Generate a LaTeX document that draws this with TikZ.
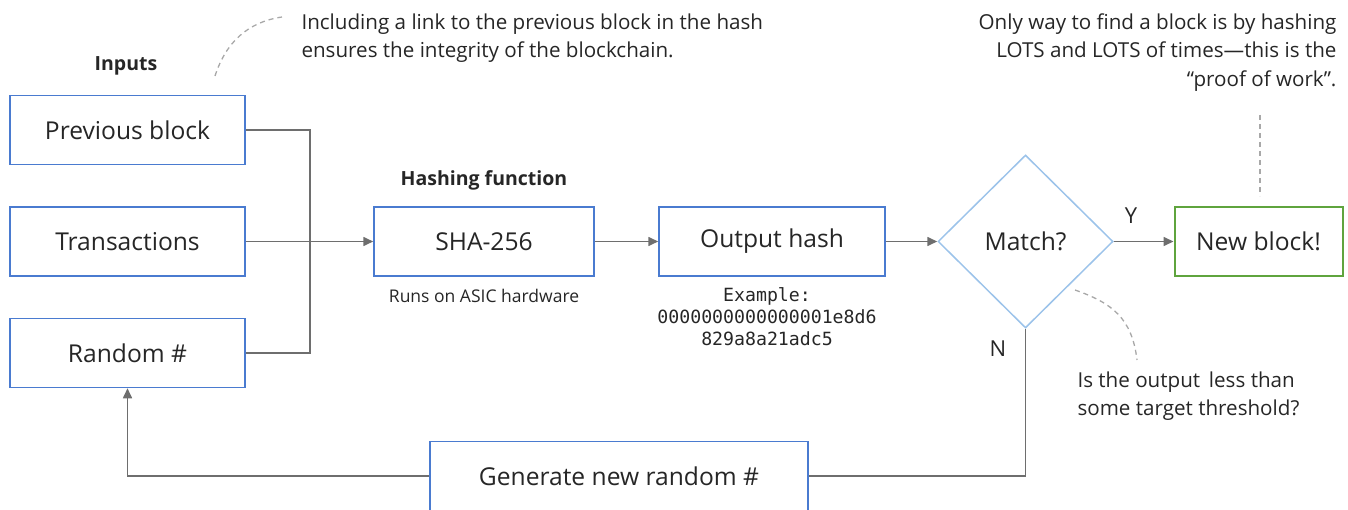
\documentclass[tikz,border=0pt]{standalone}
\usepackage{fontspec}
\setmainfont{Open Sans}
\setmonofont{DejaVu Sans Mono}
\usetikzlibrary{arrows.meta,shapes.geometric,positioning}
\definecolor{boxblue}{HTML}{4A7BD0}
\definecolor{diablue}{HTML}{9CC3EA}
\definecolor{okgreen}{HTML}{5FA43E}
\definecolor{wire}{HTML}{6E6E6E}
\definecolor{ink}{HTML}{262626}
\definecolor{note}{HTML}{A8A8A8}
\tikzset{
  stepbox/.style={draw=boxblue, line width=1.5pt, fill=white, text=ink,
    minimum width=235pt, minimum height=69pt, inner sep=0pt,
    font=\fontsize{24.6}{28}\selectfont},
  wireline/.style={draw=wire, line width=1.6pt},
  flow/.style={wireline, -{Triangle[length=10pt,width=9pt]}},
  heading/.style={text=ink, font=\bfseries\fontsize{19.5}{22}\selectfont},
  caption/.style={text=ink, font=\fontsize{17.5}{22}\selectfont},
  remark/.style={text=ink, font=\fontsize{20.6}{28.5}\selectfont},
  branch/.style={text=ink, font=\fontsize{22}{26}\selectfont},
  notelink/.style={draw=note, line width=1.3pt, dash pattern=on 5pt off 4pt},
}
\begin{document}
\begin{tikzpicture}[x=1pt,y=-1pt]
\useasboundingbox (0,0) rectangle (1348,510);

% inputs
\node[stepbox] (prev) at (127.5,130) {Previous block};
\node[stepbox] (tx)   at (127.5,241.5) {Transactions};
\node[stepbox] (rnd)  at (127.5,353) {Random \#};
\node[heading] (inputs) at (126,66) {Inputs};

% hashing
\node[stepbox, minimum width=220pt] (sha) at (484,241.5) {SHA-256};
\node[heading] (hashhead) at (484,180) {Hashing function};
\node[caption] (asic) at (484,296) {Runs on ASIC hardware};

\node[stepbox, minimum width=226pt] (out) at (772,241.5) {Output hash};
\node[text=ink, font=\ttfamily\fontsize{18.2}{22}\selectfont, align=center,
      anchor=north] (example) at (767,284)
  {Example:\\0000000000000001e8d6\\829a8a21adc5};

% decision
\node[diamond, draw=diablue, line width=1.5pt, fill=white, text=ink,
      minimum width=175pt, minimum height=173pt, inner sep=0pt,
      font=\fontsize{24.6}{28}\selectfont] (match) at (1025.5,241.5) {Match?};

\node[stepbox, draw=okgreen, line width=2pt, minimum width=168pt]
  (new) at (1258.5,241.5) {New block!};

\node[stepbox, minimum width=378pt] (gen) at (619,476) {Generate new random \#};

% bus joining the three inputs
\coordinate (bus) at (310,241.5);
\draw[wireline] (prev.east) -| (bus) |- (rnd.east);
\draw[flow] (tx.east) -- (sha.west);
\draw[flow] (sha.east) -- (out.west);
\draw[flow] (out.east) -- (match.west);
\draw[flow] (match.east) -- (new.west);
\draw[wireline] (match.south) |- (gen.east);
\draw[flow] (gen.west) -| (rnd.south);
\node[branch] (ylab) at (1131,216) {Y};
\node[branch] (nlab) at (998,349) {N};

% remarks
\node[remark, anchor=north west, align=left] (linknote) at (298,10)
  {Including a link to the previous block in the hash\\ensures the integrity of the blockchain.};
\node[remark, anchor=north east, align=right] (worknote) at (1340,10)
  {Only way to find a block is by hashing\\LOTS and LOTS of times—this is the\\“proof of work”.};
\node[remark, anchor=north west, align=left] (threshnote) at (1074,368)
  {Is the output\, less than\\some target threshold?};

\coordinate (l1) at (215,76);
\coordinate (l2) at (282,17);
\draw[notelink] (l1) .. controls (226,42) and (248,22) .. (l2);
\coordinate (w1) at (1260,115);
\coordinate (w2) at (1260,196);
\draw[notelink] (w1) -- (w2);
\coordinate (t1) at (1075,290);
\coordinate (t2) at (1137,360);
\draw[notelink] (t1) .. controls (1112,303) and (1132,318) .. (t2);
\end{tikzpicture}
\end{document}
